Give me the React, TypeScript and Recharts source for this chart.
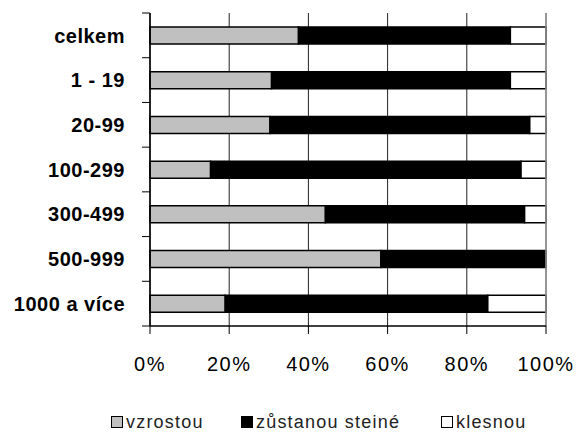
import React from "react";
import { BarChart, Bar, XAxis, YAxis, CartesianGrid, ReferenceLine } from "recharts";

const categories = ["celkem", "1 - 19", "20-99", "100-299", "300-499", "500-999", "1000 a více"];
const vzrostou = [37.5, 30.7, 30.3, 15.3, 44.3, 58.3, 19.0];
const zustanou = [53.5, 60.3, 65.6, 78.4, 50.3, 41.7, 66.3];
const klesnou = [9.0, 9.0, 4.1, 6.3, 5.4, 0, 14.7];
const xTicks = [0, 20, 40, 60, 80, 100];
const seriesNames = ["vzrostou", "zůstanou steiné", "klesnou"];
const seriesColors = ["#c0c0c0", "#000000", "#ffffff"];

const data = categories.map((c, i) => ({
  name: c,
  vzrostou: vzrostou[i],
  zustanou: zustanou[i],
  klesnou: klesnou[i],
}));

const FONT = "'Liberation Sans', Arial, sans-serif";
const BAND = (326 - 13) / categories.length;

const YTick = (props: any) => {
  const { x, y, payload, index } = props;
  const ax = x + 25;
  return (
    <g>
      <line x1={ax - 8} x2={ax} y1={y - BAND / 2} y2={y - BAND / 2} stroke="#000" strokeWidth={1} />
      {index === categories.length - 1 && (
        <line x1={ax - 8} x2={ax} y1={y + BAND / 2} y2={y + BAND / 2} stroke="#000" strokeWidth={1} />
      )}
      <text
        x={x}
        y={y}
        dy="0.36em"
        textAnchor="end"
        fontFamily={FONT}
        fontSize={20}
        fontWeight="bold"
        letterSpacing={0.5}
        fill="#000"
      >
        {payload.value}
      </text>
    </g>
  );
};

const legendLefts = [111, 241, 441];

export default function App() {
  return (
    <div style={{ position: "absolute", left: 0, top: 0, width: 579, height: 433, background: "#fff", overflow: "hidden" }}>
      <BarChart
        width={579}
        height={433}
        data={data}
        layout="vertical"
        margin={{ top: 13, right: 33, left: 0, bottom: 47 }}
        barSize={17}
      >
        <CartesianGrid horizontal={false} stroke="#222" strokeWidth={1} />
        <XAxis
          type="number"
          domain={[0, 100]}
          ticks={xTicks}
          tickFormatter={(v: number) => `${v}%`}
          height={60}
          tickSize={8}
          tickMargin={23}
          axisLine={{ stroke: "#000", strokeWidth: 1.5 }}
          tickLine={{ stroke: "#000" }}
          tick={{ fontFamily: FONT, fontSize: 20, fill: "#000", letterSpacing: 1.5 }}
          interval={0}
        />
        <XAxis
          xAxisId="top"
          type="number"
          orientation="top"
          domain={[0, 100]}
          height={0}
          tick={false}
          tickLine={false}
          axisLine={{ stroke: "#999", strokeWidth: 1.5 }}
        />
        <YAxis
          type="category"
          dataKey="name"
          width={150}
          tickSize={0}
          tickMargin={25}
          tickLine={false}
          axisLine={{ stroke: "#000", strokeWidth: 1.5 }}
          tick={<YTick />}
          interval={0}
        />
        <ReferenceLine x={100} stroke="#999" strokeWidth={1.5} />
        <Bar dataKey="vzrostou" stackId="a" fill={seriesColors[0]} stroke="#000" strokeWidth={1.5} isAnimationActive={false} />
        <Bar dataKey="zustanou" stackId="a" fill={seriesColors[1]} stroke="#000" strokeWidth={1.5} isAnimationActive={false} />
        <Bar dataKey="klesnou" stackId="a" fill={seriesColors[2]} stroke="#000" strokeWidth={1.5} isAnimationActive={false} />
      </BarChart>
      {seriesNames.map((n, i) => (
        <div
          key={n}
          style={{
            position: "absolute",
            left: legendLefts[i],
            top: 414,
            height: 16,
            lineHeight: "16px",
            display: "flex",
            alignItems: "center",
            fontFamily: FONT,
            fontSize: 18,
            letterSpacing: 1.2,
            color: "#222",
            whiteSpace: "nowrap",
          }}
        >
          <span
            style={{
              display: "inline-block",
              width: 10,
              height: 10,
              border: "1.5px solid #000",
              background: seriesColors[i],
              marginRight: 3,
            }}
          />
          {n}
        </div>
      ))}
    </div>
  );
}
